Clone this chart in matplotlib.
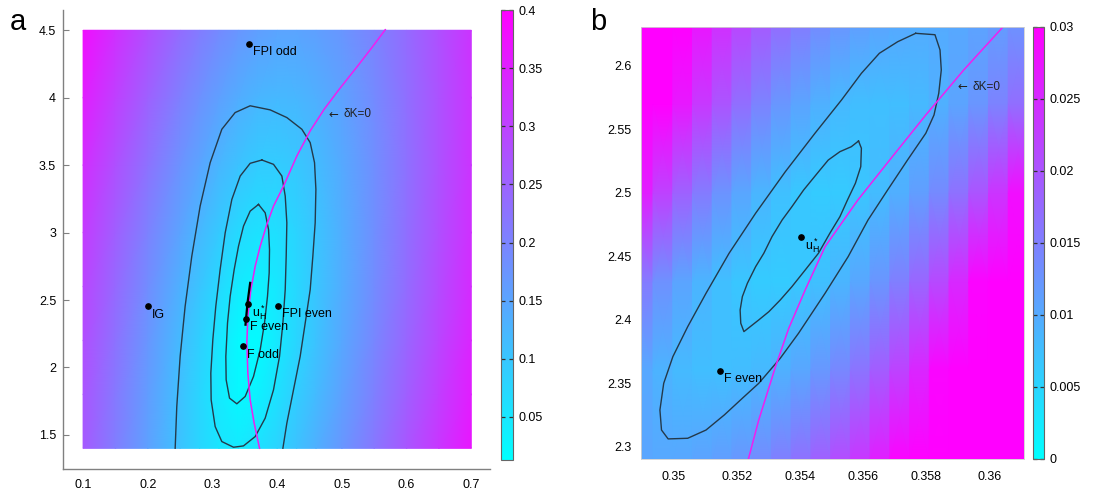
import numpy as np
import matplotlib
matplotlib.use('Agg')
import matplotlib.pyplot as plt
from matplotlib.ticker import FuncFormatter

plt.rcParams['font.family'] = ['Liberation Sans', 'DejaVu Sans']

# ---------------- panel a data ----------------
XA_NODES = [0.10, 0.15, 0.20, 0.25, 0.28, 0.31, 0.34, 0.37, 0.40, 0.43, 0.46, 0.50, 0.55, 0.60, 0.65, 0.70]
YA_NODES = [1.4, 1.8, 2.2, 2.6, 3.0, 3.5, 4.0, 4.5]
FIELD_A = [
    [0.2625, 0.2085, 0.1553, 0.1040, 0.0758, 0.0533, 0.0459, 0.0575, 0.0794, 0.1054, 0.1331, 0.1712, 0.2198, 0.2689, 0.3183, 0.3678],
    [0.2709, 0.2161, 0.1615, 0.1073, 0.0754, 0.0451, 0.0236, 0.0336, 0.0592, 0.0876, 0.1168, 0.1563, 0.2059, 0.2556, 0.3055, 0.3553],
    [0.2818, 0.2269, 0.1720, 0.1173, 0.0847, 0.0524, 0.0226, 0.0202, 0.0465, 0.0756, 0.1052, 0.1449, 0.1947, 0.2446, 0.2945, 0.3445],
    [0.2948, 0.2402, 0.1859, 0.1322, 0.1007, 0.0705, 0.0445, 0.0341, 0.0479, 0.0722, 0.0997, 0.1380, 0.1869, 0.2362, 0.2858, 0.3355],
    [0.3097, 0.2559, 0.2027, 0.1508, 0.1210, 0.0933, 0.0704, 0.0582, 0.0623, 0.0786, 0.1014, 0.1362, 0.1828, 0.2307, 0.2794, 0.3285],
    [0.3307, 0.2781, 0.2266, 0.1773, 0.1496, 0.1245, 0.1040, 0.0911, 0.0891, 0.0973, 0.1131, 0.1415, 0.1832, 0.2283, 0.2750, 0.3228],
    [0.3537, 0.3025, 0.2529, 0.2061, 0.1802, 0.1570, 0.1379, 0.1247, 0.1195, 0.1226, 0.1325, 0.1541, 0.1897, 0.2307, 0.2747, 0.3205],
    [0.3784, 0.3287, 0.2809, 0.2364, 0.2120, 0.1902, 0.1720, 0.1587, 0.1516, 0.1513, 0.1570, 0.1726, 0.2018, 0.2381, 0.2786, 0.3218],
]
CA_MIN, CA_MAX = 0.013, 0.4
CA_TICKS = [0.05, 0.1, 0.15, 0.2, 0.25, 0.3, 0.35, 0.4]
XA_TICKS = [0.1, 0.2, 0.3, 0.4, 0.5, 0.6, 0.7]
YA_TICKS = [1.5, 2, 2.5, 3, 3.5, 4, 4.5]

A_INNER_X = [0.3711, 0.3814, 0.3866, 0.3881, 0.3876, 0.3850, 0.3804, 0.3737, 0.3634, 0.3505, 0.3376,
             0.3263, 0.3211, 0.3206, 0.3232, 0.3273, 0.3335, 0.3402, 0.3479, 0.3582, 0.3711]
A_INNER_Y = [3.2088, 3.1469, 3.0230, 2.8744, 2.7011, 2.5277, 2.3296, 2.1315, 1.9334, 1.7848, 1.7303,
             1.7724, 1.9086, 2.0820, 2.3296, 2.5277, 2.7259, 2.8992, 3.0478, 3.1592, 3.2088]
A_MID_X = [0.3763, 0.3943, 0.4072, 0.4124, 0.4149, 0.4139, 0.4124, 0.4088, 0.4036, 0.3943, 0.3814, 0.3660, 0.3479,
           0.3325, 0.3144, 0.3041, 0.2979, 0.2974, 0.3005, 0.3051, 0.3118, 0.3196, 0.3299, 0.3428, 0.3582, 0.3763]
A_MID_Y = [3.5381, 3.5059, 3.4192, 3.2707, 3.0726, 2.8249, 2.5773, 2.3296, 2.0820, 1.8343, 1.6238, 1.4876, 1.4183,
           1.4084, 1.4505, 1.5619, 1.7600, 1.9582, 2.2058, 2.4534, 2.7259, 2.9983, 3.2459, 3.4192, 3.5134, 3.5381]
A_OUT_X = [0.4088, 0.4149, 0.4252, 0.4355, 0.4433, 0.4510, 0.4551, 0.4587, 0.4598, 0.4577, 0.4510, 0.4381,
           0.4149, 0.3892, 0.3582, 0.3350, 0.3144, 0.2964, 0.2809, 0.2680, 0.2577, 0.2500, 0.2448, 0.2423]
A_OUT_Y = [1.4010, 1.5867, 1.8343, 2.0820, 2.3296, 2.5773, 2.8249, 3.0726, 3.3202, 3.5183, 3.6669, 3.7660,
           3.8527, 3.9096, 3.9400, 3.8898, 3.7660, 3.5183, 3.1964, 2.8249, 2.4534, 2.0820, 1.7105, 1.4010]
A_DK_X = [0.5670, 0.5469, 0.5245, 0.4959, 0.4727, 0.4510, 0.4304, 0.4098, 0.3943, 0.3840, 0.3737, 0.3660,
          0.3593, 0.3546, 0.3531, 0.3546, 0.3582, 0.3644, 0.3727]
A_DK_Y = [4.504, 4.375, 4.236, 4.063, 3.915, 3.754, 3.568, 3.345, 3.196, 3.060, 2.899, 2.751,
          2.577, 2.379, 2.181, 1.958, 1.760, 1.587, 1.401]
A_PATH_X = [0.3582, 0.3541, 0.3510]
A_PATH_Y = [2.627, 2.478, 2.317]

A_PT_NAMES = ['FPI odd', 'IG', r'$\mathregular{u_H^*}$', 'FPI even', 'F even', 'F odd']
A_PT_X = [0.3557, 0.200, 0.3541, 0.4010, 0.3518, 0.3467]
A_PT_Y = [4.397, 2.453, 2.468, 2.458, 2.362, 2.156]

# ---------------- panel b data ----------------
XB_EDGES = [0.348725, 0.34935, 0.349975, 0.3506, 0.351225, 0.35185, 0.352475, 0.3531, 0.353725,
            0.35435, 0.354975, 0.3556, 0.356225, 0.35685, 0.357475, 0.3581, 0.358725, 0.35935,
            0.359975, 0.3606, 0.361225]
YB_NODES = [2.29, 2.36, 2.43, 2.50, 2.57, 2.632]
FIELD_B_MILLI = [
    [10.5, 10.3, 10.4, 10.8, 11.4, 12.3, 13.5, 15.0, 16.7, 18.7, 21.0, 23.5, 26.4, 29.5, 32.8, 36.5, 40.4, 44.6, 49.1, 53.8],
    [10.2, 9.0, 8.2, 7.7, 7.5, 7.8, 8.3, 9.3, 10.5, 12.2, 14.1, 16.5, 19.2, 22.2, 25.6, 29.3, 33.4, 37.8, 42.6, 47.8],
    [15.5, 12.9, 10.7, 8.9, 7.6, 6.7, 6.2, 6.2, 6.6, 7.4, 8.7, 10.4, 12.5, 15.0, 18.0, 21.4, 25.2, 29.5, 34.2, 39.3],
    [26.4, 22.3, 18.6, 15.5, 12.7, 10.5, 8.7, 7.4, 6.6, 6.2, 6.3, 6.9, 7.9, 9.4, 11.4, 13.8, 16.7, 20.1, 23.9, 28.3],
    [35.7, 31.2, 27.1, 23.4, 20.1, 17.1, 14.6, 12.4, 10.7, 9.3, 8.3, 7.7, 7.5, 7.7, 8.3, 9.3, 10.7, 12.4, 14.6, 17.1],
    [37.9, 34.1, 30.6, 27.4, 24.4, 21.7, 19.3, 17.2, 15.3, 13.7, 12.4, 11.3, 10.6, 10.1, 9.8, 9.9, 10.2, 10.8, 11.7, 12.8],
]
CB_MIN, CB_MAX = 0.0, 0.03
CB_TICKS = [0, 0.005, 0.01, 0.015, 0.02, 0.025, 0.03]
XB_TICKS = [0.35, 0.352, 0.354, 0.356, 0.358, 0.36]
YB_TICKS = [2.3, 2.35, 2.4, 2.45, 2.5, 2.55, 2.6]

B_OUT_X = [0.35767, 0.35828, 0.35844, 0.35848, 0.35840, 0.35825, 0.35799, 0.35741, 0.35678, 0.35616,
           0.35553, 0.35480, 0.35396, 0.35338, 0.35270, 0.35218, 0.35161, 0.35103, 0.35045, 0.34983,
           0.34962, 0.34957, 0.34969, 0.34998, 0.35045, 0.35103, 0.35176, 0.35260, 0.35354, 0.35448,
           0.35532, 0.35595, 0.35652, 0.35710, 0.35767]
B_OUT_Y = [2.6255, 2.6244, 2.6124, 2.5966, 2.5783, 2.5612, 2.5468, 2.5257, 2.5021, 2.4785,
           2.4496, 2.4208, 2.3893, 2.3696, 2.3499, 2.3381, 2.3250, 2.3131, 2.3066, 2.3061,
           2.3131, 2.3289, 2.3499, 2.3709, 2.3945, 2.4208, 2.4523, 2.4838, 2.5165, 2.5468,
           2.5730, 2.5940, 2.6098, 2.6189, 2.6255]
B_IN_X = [0.35586, 0.35595, 0.35593, 0.35576, 0.35551, 0.35527, 0.35495, 0.35459, 0.35417, 0.35375,
          0.35338, 0.35302, 0.35270, 0.35223, 0.35213, 0.35211, 0.35218, 0.35234, 0.35260, 0.35286,
          0.35312, 0.35344, 0.35375, 0.35412, 0.35438, 0.35464, 0.35490, 0.35527, 0.35563, 0.35586]
B_IN_Y = [2.5407, 2.5350, 2.5205, 2.5074, 2.4943, 2.4811, 2.4680, 2.4523, 2.4391, 2.4260,
          2.4155, 2.4063, 2.3998, 2.3906, 2.3972, 2.4076, 2.4181, 2.4287, 2.4417, 2.4523,
          2.4654, 2.4785, 2.4890, 2.5021, 2.5100, 2.5179, 2.5257, 2.5323, 2.5362, 2.5407]
B_DK_X = [0.35237, 0.35270, 0.35323, 0.35365, 0.35417, 0.35480, 0.35584, 0.35689, 0.35799, 0.35919, 0.36044]
B_DK_Y = [2.2901, 2.3210, 2.3630, 2.3932, 2.4234, 2.4575, 2.4943, 2.5271, 2.5612, 2.5966, 2.6307]

B_PT_NAMES = [r'$\mathregular{u_H^*}$', 'F even']
B_PT_X = [0.35403, 0.35147]
B_PT_Y = [2.4652, 2.3596]

CONTOUR_COLOR = '#24394a'
CURVE_COLOR = '#f01ef0'
GRAY = '#808080'
fmt = FuncFormatter(lambda v, p: '%g' % v)


def dk_label(ax, x, y):
    ax.annotate('\u2190', (x, y), xytext=(0, 0), textcoords='offset points', ha='left',
                va='center', fontsize=8.5, color='#222222', family=['DejaVu Sans'])
    ax.annotate('\u03b4K=0', (x, y), xytext=(11, 0), textcoords='offset points', ha='left',
                va='center', fontsize=8.5, color='#222222')


fig = plt.figure(figsize=(11.08, 4.94), dpi=100)

# ---------------- panel a ----------------
axA = fig.add_axes([0.0569, 0.0506, 0.3854, 0.9291])
XA, YA = np.meshgrid(XA_NODES, YA_NODES)
meshA = axA.pcolormesh(XA, YA, np.array(FIELD_A), shading='gouraud', cmap='cool',
                       vmin=CA_MIN, vmax=CA_MAX)
axA.plot(A_INNER_X, A_INNER_Y, color=CONTOUR_COLOR, lw=1.0)
axA.plot(A_MID_X, A_MID_Y, color=CONTOUR_COLOR, lw=1.0)
axA.plot(A_OUT_X, A_OUT_Y, color=CONTOUR_COLOR, lw=1.0)
axA.plot(A_DK_X, A_DK_Y, color=CURVE_COLOR, lw=1.1)
axA.plot(A_PATH_X, A_PATH_Y, color='black', lw=1.6)
axA.plot(A_PT_X, A_PT_Y, 'o', color='black', ms=3.8, ls='none')
for name, x, y in zip(A_PT_NAMES, A_PT_X, A_PT_Y):
    axA.annotate(name, (x, y), xytext=(3, -6), textcoords='offset points',
                 ha='left', va='center', fontsize=9)
dk_label(axA, 0.479, 3.877)
axA.set_xlim(0.069, 0.729)
axA.set_ylim(1.247, 4.65)
axA.set_xticks(XA_TICKS)
axA.set_yticks(YA_TICKS)
axA.xaxis.set_major_formatter(fmt)
axA.yaxis.set_major_formatter(fmt)
for s in ['top', 'right']:
    axA.spines[s].set_visible(False)
for s in ['left', 'bottom']:
    axA.spines[s].set_color(GRAY)
    axA.spines[s].set_linewidth(1.0)
axA.tick_params(axis='y', direction='in', length=4, color=GRAY, labelsize=9, pad=5)
axA.tick_params(axis='x', length=0, labelsize=9, pad=7)

caxA = fig.add_axes([0.4522, 0.0688, 0.0108, 0.9109])
cbA = fig.colorbar(meshA, cax=caxA, ticks=CA_TICKS, format=fmt)
cbA.outline.set_edgecolor('#666666')
cbA.outline.set_linewidth(0.8)
caxA.tick_params(axis='y', direction='in', length=3, width=0.9, color='#333333',
                 left=True, right=True, labelleft=False, labelright=True, labelsize=9, pad=4)

# ---------------- panel b ----------------
axB = fig.add_axes([0.5785, 0.0709, 0.3457, 0.8745])
eb = np.array(XB_EDGES)
xn = np.repeat(eb, 2)[1:-1]
cn = np.repeat(np.array(FIELD_B_MILLI) * 1e-3, 2, axis=1)
XB, YB = np.meshgrid(xn, YB_NODES)
meshB = axB.pcolormesh(XB, YB, cn, shading='gouraud', cmap='cool', vmin=CB_MIN, vmax=CB_MAX)
axB.plot(B_OUT_X, B_OUT_Y, color=CONTOUR_COLOR, lw=1.0)
axB.plot(B_IN_X, B_IN_Y, color=CONTOUR_COLOR, lw=1.0)
axB.plot(B_DK_X, B_DK_Y, color=CURVE_COLOR, lw=1.1)
axB.plot(B_PT_X, B_PT_Y, 'o', color='black', ms=3.8, ls='none')
for name, x, y in zip(B_PT_NAMES, B_PT_X, B_PT_Y):
    axB.annotate(name, (x, y), xytext=(3, -6), textcoords='offset points',
                 ha='left', va='center', fontsize=9)
dk_label(axB, 0.35898, 2.5835)
axB.set_xlim(0.34897, 0.3611)
axB.set_ylim(2.2903, 2.6305)
axB.set_xticks(XB_TICKS)
axB.set_yticks(YB_TICKS)
axB.xaxis.set_major_formatter(fmt)
axB.yaxis.set_major_formatter(fmt)
for s in axB.spines.values():
    s.set_color('#d0d0d0')
    s.set_linewidth(0.6)
axB.tick_params(axis='both', length=0, labelsize=9)
axB.tick_params(axis='y', pad=7)
axB.tick_params(axis='x', pad=9)

caxB = fig.add_axes([0.9323, 0.0709, 0.0099, 0.8745])
cbB = fig.colorbar(meshB, cax=caxB, ticks=CB_TICKS, format=fmt)
cbB.outline.set_edgecolor('#666666')
cbB.outline.set_linewidth(0.8)
caxB.tick_params(axis='y', direction='in', length=3, width=0.9, color='#333333',
                 left=True, right=True, labelleft=False, labelright=True, labelsize=9, pad=4)

fig.text(0.009, 0.939, 'a', fontsize=21, va='baseline', ha='left')
fig.text(0.533, 0.939, 'b', fontsize=21, va='baseline', ha='left')

fig.savefig('out.png', dpi=100)
